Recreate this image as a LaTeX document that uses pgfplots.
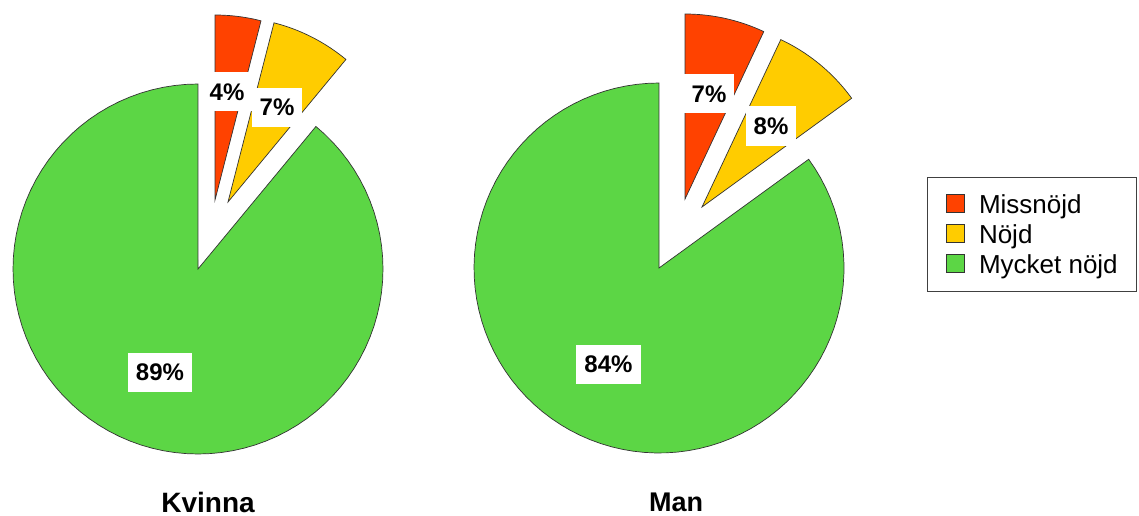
\documentclass[border=0pt]{standalone}
\usepackage{fontspec}
\setmainfont{Liberation Sans}
\usepackage{pgfplots}
\pgfplotsset{compat=1.18}
\definecolor{cRed}{RGB}{255,66,0}
\definecolor{cYel}{RGB}{255,204,0}
\definecolor{cGrn}{RGB}{92,214,69}
% slice: #1 cx, #2 cy, #3 from (%), #4 to (%), #5 colour, #6 dx, #7 dy, #8 extra options
\newcommand{\pieslice}[8]{%
  \addplot[fill=#5, draw=black!80, line width=0.7pt, domain=0:1, samples=90, variable=\t, #8]
   ({#1+#6+185*sin(3.6*(#3+\t*(#4-#3)))}, {#2+#7-185*cos(3.6*(#3+\t*(#4-#3)))})
   -- (axis cs:{#1+#6},{#2+#7}) -- cycle;
}
\begin{document}
\begin{tikzpicture}
\useasboundingbox (0,0) rectangle (1139pt,516pt);
\begin{axis}[
  width=1139pt, height=516pt, scale only axis,
  xmin=0, xmax=1139, ymin=0, ymax=516, y dir=reverse,
  hide axis, clip=false,
  legend style={at={(axis cs:927,177)}, anchor=north west, draw=black!75, line width=0.8pt,
    fill=white, inner xsep=19pt, inner ysep=17pt, row sep=9.5pt,
    nodes={inner sep=0pt},
    /tikz/every odd column/.append style={column sep=14pt},
    font=\fontsize{26}{30}\selectfont, cells={anchor=west}},
  legend image code/.code={\draw[#1, draw=black!80, line width=0.6pt] (0pt,-8pt) rectangle (18pt,10pt);},
]
% Kvinna: 4, 7, 89
\pieslice{198}{269}{0}{4}{cRed}{17}{-69}{}
\pieslice{198}{269}{4}{11}{cYel}{30}{-67}{}
\pieslice{198}{269}{11}{100}{cGrn}{0}{0}{}
% Man: 7, 8, 84
\pieslice{659}{268}{0}{7}{cRed}{26}{-69}{forget plot}
\pieslice{659}{268}{7}{15}{cYel}{43}{-61}{forget plot}
\pieslice{659}{268}{15}{100}{cGrn}{0}{0}{forget plot}
\legend{Missnöjd, Nöjd, Mycket nöjd}
\tikzset{lab/.style={fill=white, inner xsep=8pt, inner ysep=11pt, text height=17pt, text depth=0pt,
  font=\fontsize{24}{28}\selectfont\bfseries}}
\node[lab] at (axis cs:227,91.5) {4\%};
\node[lab] at (axis cs:277,107.5) {7\%};
\node[lab] at (axis cs:160,372) {89\%};
\node[lab] at (axis cs:709,94) {7\%};
\node[lab] at (axis cs:771,126) {8\%};
\node[lab] at (axis cs:608.5,364) {84\%};
\node[font=\fontsize{28}{30}\selectfont\bfseries] at (axis cs:208,502) {Kvinna};
\node[font=\fontsize{27}{30}\selectfont\bfseries] at (axis cs:676,502) {Man};
\end{axis}
\end{tikzpicture}
\end{document}
